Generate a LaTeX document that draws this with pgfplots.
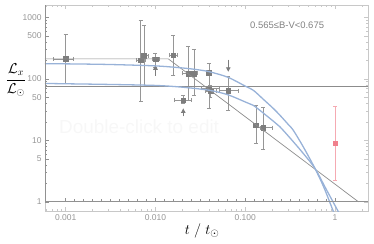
\documentclass[border=0pt]{standalone}
\usepackage{fontspec}
\setmainfont{Liberation Sans}
\usepackage{pgfplots}
\pgfplotsset{compat=1.18}
\usetikzlibrary{calc,arrows.meta}
\definecolor{framegray}{RGB}{200,200,200}
\definecolor{axisgray}{RGB}{145,145,145}
\definecolor{ticklab}{RGB}{150,150,150}
\definecolor{labgray}{RGB}{130,130,130}
\definecolor{markgray}{RGB}{125,125,125}
\definecolor{errgray}{RGB}{150,150,150}
\definecolor{linegray}{RGB}{140,140,140}
\definecolor{curveblue}{RGB}{152,178,216}
\definecolor{redmark}{RGB}{240,128,140}
\definecolor{rederr}{RGB}{245,170,178}
\pgfplotstableread{
x y xm xp ym yp
0.001 211 0.00027 0.00020 127 322
0.00684 201 0.00074 0.00086 157 699
0.00745 237 0.00065 0.00085 161 510
0.0100 207 0.0009 0.0011 50 58
0.0158 243 0.0015 0.0017 128 271
0.0232 122 0.0036 0.0021 77 222
0.0268 122 0.0023 0.0027 68 182
0.0204 45 0.0043 0.0043 5 9
0.0394 127 0.0024 0.0026 12 13
0.0394 70 0.0069 0.0120 37 112
0.0410 63 0.0050 0.0060 13 17
0.0647 64 0.0134 0.0189 33 47
0.1315 17.7 0.0065 0.0085 8.8 19.3
0.158 16 0.011 0.039 8.9 19
}\obsdata
\begin{document}
\begin{tikzpicture}
\begin{axis}[name=A, scale only axis, width=323.3bp, height=206bp,
  xmode=log, ymode=log, xmin=5.888e-4, xmax=2.3442, ymin=0.70795, ymax=1584.9,
  axis line style={framegray}, tick style={framegray, line width=0.4pt}, tick align=inside,
  xtick={0.001,0.01,0.1,1}, xticklabels={0.001,0.010,0.100,1},
  ytick={1,5,10,50,100,500,1000}, yticklabels={1,5,10,50,100,500,1000},
  minor xtick={0.0006,0.0007,0.0008,0.0009,0.002,0.003,0.004,0.005,0.006,0.007,0.008,0.009,0.02,0.03,0.04,0.05,0.06,0.07,0.08,0.09,0.2,0.3,0.4,0.5,0.6,0.7,0.8,0.9,2},
  minor ytick={2,3,4,6,7,8,9,20,30,40,60,70,80,90,200,300,400,600,700,800,900},
  major tick length=4bp, minor tick length=2bp,
  xtick pos=both, ytick pos=both,
  ticklabel style={font=\fontsize{8.5}{10}\selectfont, text=ticklab},
  /pgf/number format/assume math mode=true,
  clip mode=individual]
\node[text=black!3, font=\fontsize{19}{22}\selectfont] at (rel axis cs:0.291,0.409) {Double-click to edit};
\addplot[only marks, mark=square*, mark size=2.3pt, color=markgray,
  error bars/.cd, x dir=both, y dir=both, x explicit, y explicit,
  error bar style={errgray, line width=0.6pt},
  error mark options={errgray, mark size=2pt, rotate=90}]
  table[x=x, y=y, x error plus=xp, x error minus=xm, y error plus=yp, y error minus=ym] {\obsdata};
\addplot[only marks, mark=square*, mark size=2.3pt, color=redmark,
  error bars/.cd, y dir=both, y explicit,
  error bar style={rederr, line width=0.8pt},
  error mark options={rederr, mark size=2pt, rotate=90, line width=0.8pt}]
  coordinates {(1.0,8.9) -= (0,6.65) += (0,26.1)};
\addplot[markgray, line width=0.9pt, -{Triangle[length=4.5bp,width=4.5bp]}] coordinates {(0.0100,112)(0.0100,166)};
\addplot[markgray, line width=0.9pt, -{Triangle[length=4.5bp,width=4.5bp]}] coordinates {(0.0204,24.5)(0.0204,33)};
\addplot[markgray, line width=0.9pt, -{Triangle[length=4.5bp,width=4.5bp]}] coordinates {(0.0647,205)(0.0647,130)};
\addplot[linegray, line width=0.5pt] coordinates {(5.888e-4,76)(2.3442,76)};
\addplot[linegray, line width=0.7pt] coordinates {(5.888e-4,211)(0.0139,211)(1.82,1)};
\addplot[curveblue, line width=1.3pt, smooth] coordinates {
(5.888e-4,175)(0.001,175)(0.003,171)(0.01,162)(0.02,150)(0.03,140)(0.04,130)(0.064,106)(0.1,76)(0.123,65)(0.16,46)(0.205,33)(0.243,25.6)(0.3,18.2)(0.343,14.5)(0.443,7.8)(0.597,3.49)(0.75,1.72)(0.96,0.69)(1.0,0.6)};
\addplot[curveblue, line width=1.3pt, smooth] coordinates {
(5.888e-4,84)(0.001,83)(0.003,81)(0.01,78)(0.02,73)(0.04,65)(0.064,55)(0.1,42)(0.123,37)(0.205,20.5)(0.243,16.6)(0.33,10.1)(0.443,6.1)(0.597,3.49)(0.8,1.58)(1.087,0.69)(1.15,0.58)};
\node[anchor=west, text=labgray, font=\fontsize{9.5}{11}\selectfont, inner sep=0pt] at (rel axis cs:0.634,0.903) {0.565≤B-V<0.675};
\node at (rel axis cs:-0.09,0.636) {\fontsize{14}{16}\selectfont$\displaystyle\frac{\mathcal{L}_x}{\mathcal{L}_\odot}$};
\node at (rel axis cs:0.486,-0.097) {\fontsize{15}{17}\selectfont$t\ /\ t_{\odot}$};
\end{axis}
\begin{axis}[at={($(A.south west)+(0,9.224bp)$)}, anchor=south west, scale only axis,
  width=323.3bp, height=196.776bp,
  xmin=-3.23, xmax=0.37, ymode=log, ymin=1, ymax=1584.9,
  axis x line=bottom, axis y line=left,
  axis line style={axisgray, line width=0.6pt, -},
  every outer x axis line/.append style={-}, every outer y axis line/.append style={-},
  every inner x axis line/.append style={-}, every inner y axis line/.append style={-},
  xtick={-3,-2,-1,0}, minor x tick num=9, xticklabels={},
  ytick={1,5,10,50,100,500,1000}, yticklabels={},
  minor ytick={2,3,4,6,7,8,9,20,30,40,60,70,80,90,200,300,400,600,700,800,900},
  tick align=inside, tick style={axisgray, line width=0.5pt},
  major tick length=4bp, minor tick length=2.5bp]
\addplot[draw=none] coordinates {(-3,1)};
\end{axis}
\pgfresetboundingbox
\path ($(A.south west)+(-45bp,-32bp)$) rectangle ($(A.north east)+(5.7bp,5bp)$);
\end{tikzpicture}
\end{document}
